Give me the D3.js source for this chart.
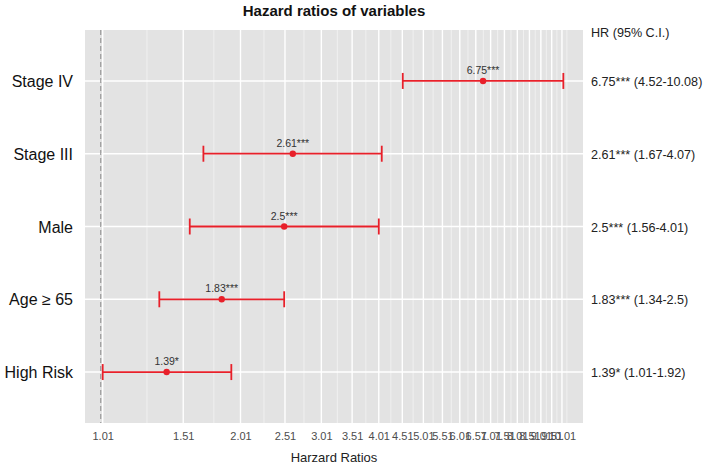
<!DOCTYPE html>
<html><head><meta charset="utf-8">
<script src="https://cdn.jsdelivr.net/npm/d3@7"></script>
<style>body{margin:0;background:#fff}svg{display:block}</style>
</head><body>
<svg id="chart" width="709" height="470"></svg>
<script>
const categories = ["Stage IV", "Stage III", "Male", "Age \u2265 65", "High Risk"];
const hr = [6.75, 2.61, 2.5, 1.83, 1.39];
const lower = [4.52, 1.67, 1.56, 1.34, 1.01];
const upper = [10.08, 4.07, 4.01, 2.5, 1.92];
const sig = ["***", "***", "***", "***", "*"];
const tickValues = [1.01, 1.51, 2.01, 2.51, 3.01, 3.51, 4.01, 4.51, 5.01, 5.51, 6.01, 6.51, 7.01, 7.51, 8.01, 8.51, 9.01, 9.51, 10.01];
const minorValues = [1.26, 1.76, 2.26, 2.76, 3.26, 3.76, 4.26, 4.76, 5.26, 5.76, 6.26, 6.76, 7.26, 7.76, 8.26, 8.76, 9.26, 9.76, 10.26];
const refLine = 1;
const title = "Hazard ratios of variables";
const xTitle = "Harzard Ratios";
const rightHeader = "HR (95% C.I.)";

const svg = d3.select("#chart");
const font = "'Liberation Sans', Arial, sans-serif";
const P = {left: 85, right: 583, top: 30, bottom: 423};

const x = d3.scaleLog().domain([0.9245, 11.12]).range([P.left, P.right]);
const y = d3.scalePoint().domain(categories).range([P.top, P.bottom]).padding(0.7);

// panel
svg.append("rect").attr("x", P.left).attr("y", P.top)
  .attr("width", P.right - P.left).attr("height", P.bottom - P.top).attr("fill", "#e3e3e3");

const g = svg.append("g");
// minor grid
g.selectAll("line.minor").data(minorValues.filter(v => x(v) <= P.right)).join("line")
  .attr("x1", d => x(d)).attr("x2", d => x(d)).attr("y1", P.top).attr("y2", P.bottom)
  .attr("stroke", "#f7f7f7").attr("stroke-width", 0.7);
// major grid
g.selectAll("line.major").data(tickValues).join("line")
  .attr("x1", d => x(d)).attr("x2", d => x(d)).attr("y1", P.top).attr("y2", P.bottom)
  .attr("stroke", "#ffffff").attr("stroke-width", 1.4);
g.selectAll("line.hgrid").data(categories).join("line")
  .attr("x1", P.left).attr("x2", P.right).attr("y1", d => y(d)).attr("y2", d => y(d))
  .attr("stroke", "#ffffff").attr("stroke-width", 1.4);

// reference dashed line
svg.append("line").attr("x1", x(refLine)).attr("x2", x(refLine))
  .attr("y1", P.top).attr("y2", P.bottom)
  .attr("stroke", "#9a9a9a").attr("stroke-width", 1.2).attr("stroke-dasharray", "5,3");

// x axis
const xAxis = d3.axisBottom(x).tickValues(tickValues).tickFormat(d3.format(".2f")).tickSize(0).tickPadding(9);
const ax = svg.append("g").attr("transform", `translate(0,${P.bottom})`).call(xAxis);
ax.select(".domain").remove();
ax.selectAll("text").attr("font-family", font).attr("font-size", 11).attr("fill", "#4d4d4d");

// y axis labels
const yAxis = d3.axisLeft(y).tickSize(0).tickPadding(12);
const ay = svg.append("g").attr("transform", `translate(${P.left},0)`).call(yAxis);
ay.select(".domain").remove();
ay.selectAll("text").attr("font-family", font).attr("font-size", 16).attr("fill", "#111").attr("dy", "0.35em");

const red = "#e8202a";
const rows = categories.map((c, i) => ({c, hr: hr[i], lo: lower[i], hi: upper[i], s: sig[i]}));

// error bars
const eb = svg.append("g").selectAll("g").data(rows).join("g");
eb.append("line").attr("x1", d => x(d.lo)).attr("x2", d => x(d.hi))
  .attr("y1", d => y(d.c)).attr("y2", d => y(d.c)).attr("stroke", red).attr("stroke-width", 1.8);
eb.append("line").attr("x1", d => x(d.lo)).attr("x2", d => x(d.lo))
  .attr("y1", d => y(d.c) - 8).attr("y2", d => y(d.c) + 8).attr("stroke", red).attr("stroke-width", 1.8);
eb.append("line").attr("x1", d => x(d.hi)).attr("x2", d => x(d.hi))
  .attr("y1", d => y(d.c) - 8).attr("y2", d => y(d.c) + 8).attr("stroke", red).attr("stroke-width", 1.8);
eb.append("circle").attr("cx", d => x(d.hr)).attr("cy", d => y(d.c)).attr("r", 3.2).attr("fill", red);
eb.append("text").attr("x", d => x(d.hr)).attr("y", d => y(d.c) - 7)
  .attr("text-anchor", "middle").attr("font-family", font).attr("font-size", 10.5).attr("fill", "#333")
  .text(d => d.hr + d.s);

// right labels
svg.append("text").attr("x", 591).attr("y", 37).attr("font-family", font).attr("font-size", 12.6)
  .attr("fill", "#222").text(rightHeader);
svg.append("g").selectAll("text").data(rows).join("text")
  .attr("x", 591).attr("y", d => y(d.c) + 5).attr("font-family", font).attr("font-size", 12.6)
  .attr("fill", "#222").text(d => `${d.hr}${d.s} (${d.lo}-${d.hi})`);

// titles
svg.append("text").attr("x", (P.left + P.right) / 2).attr("y", 16).attr("text-anchor", "middle")
  .attr("font-family", font).attr("font-size", 15).attr("font-weight", "bold").attr("fill", "#111").text(title);
svg.append("text").attr("x", (P.left + P.right) / 2).attr("y", 462).attr("text-anchor", "middle")
  .attr("font-family", font).attr("font-size", 13).attr("fill", "#222").text(xTitle);
</script>
</body></html>
